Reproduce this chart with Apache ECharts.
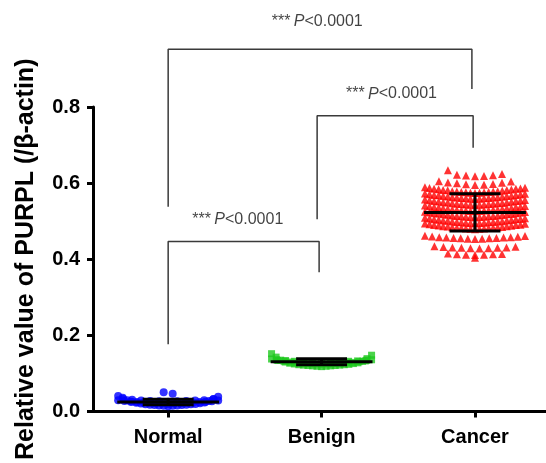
<!DOCTYPE html>
<html>
<head>
<meta charset="utf-8">
<style>
  html, body { margin: 0; padding: 0; background: #fff; }
  #main { width: 546px; height: 463px; }
</style>
<script src="https://cdn.jsdelivr.net/npm/echarts@6/dist/echarts.min.js"></script>
</head>
<body>
<div id="main"></div>
<script>
const categories = ["Normal", "Benign", "Cancer"];

// points, one array per horizontal row of the swarm
const normalRows = [
  [0.014, 0.015, 0.015, 0.016, 0.016, 0.017, 0.017, 0.018, 0.018, 0.019, 0.019, 0.020,
   0.021, 0.022, 0.023, 0.024, 0.026, 0.028, 0.030, 0.033, 0.036, 0.039, 0.041],
  [0.020, 0.021, 0.021, 0.022, 0.022, 0.023, 0.023, 0.024, 0.024, 0.025, 0.025, 0.026,
   0.026, 0.027, 0.028, 0.029, 0.030],
  [0.026, 0.027, 0.027, 0.028, 0.028, 0.029, 0.029, 0.030, 0.031, 0.032, 0.033],
  [0.047, 0.051],
];
const benignRows = [
  [0.118, 0.119, 0.119, 0.120, 0.120, 0.121, 0.121, 0.122, 0.122, 0.123, 0.123, 0.124,
   0.125, 0.126, 0.127, 0.128, 0.130, 0.132, 0.135, 0.139, 0.143, 0.148, 0.152],
  [0.124, 0.125, 0.125, 0.126, 0.126, 0.127, 0.127, 0.128, 0.128, 0.129, 0.130, 0.131,
   0.132, 0.133, 0.134, 0.136, 0.138],
  [0.129, 0.130, 0.130, 0.131, 0.131, 0.132, 0.132, 0.133, 0.134, 0.135, 0.136],
];
const cancerRows = [
  [0.618, 0.619, 0.620, 0.621, 0.622, 0.624, 0.634],
  [0.595, 0.596, 0.597, 0.598, 0.600, 0.601, 0.602, 0.604, 0.605],
  [0.574, 0.575, 0.575, 0.576, 0.576, 0.577, 0.577, 0.578, 0.578, 0.579, 0.579, 0.580,
   0.581, 0.582, 0.582, 0.583, 0.584, 0.585, 0.585, 0.586, 0.587, 0.588, 0.589],
  [0.558, 0.559, 0.559, 0.560, 0.560, 0.561, 0.561, 0.562, 0.562, 0.563, 0.563, 0.564,
   0.565, 0.566, 0.566, 0.567, 0.568, 0.569, 0.569, 0.570, 0.571, 0.572, 0.573],
  [0.542, 0.543, 0.543, 0.544, 0.544, 0.545, 0.545, 0.546, 0.546, 0.547, 0.547, 0.548,
   0.549, 0.550, 0.550, 0.551, 0.552, 0.553, 0.553, 0.554, 0.555, 0.556, 0.557],
  [0.526, 0.527, 0.527, 0.528, 0.528, 0.529, 0.529, 0.530, 0.530, 0.531, 0.531, 0.532,
   0.533, 0.534, 0.534, 0.535, 0.536, 0.537, 0.537, 0.538, 0.539, 0.540, 0.541],
  [0.510, 0.511, 0.511, 0.512, 0.512, 0.513, 0.513, 0.514, 0.514, 0.515, 0.515, 0.516,
   0.517, 0.518, 0.518, 0.519, 0.520, 0.521, 0.521, 0.522, 0.523, 0.524, 0.525],
  [0.494, 0.495, 0.495, 0.496, 0.496, 0.497, 0.497, 0.498, 0.498, 0.499, 0.499, 0.500,
   0.501, 0.502, 0.502, 0.503, 0.504, 0.505, 0.505, 0.506, 0.507, 0.508, 0.509],
  [0.479, 0.480, 0.480, 0.481, 0.481, 0.482, 0.482, 0.483, 0.483, 0.484, 0.484, 0.485,
   0.486, 0.487, 0.487, 0.488, 0.489, 0.490, 0.490, 0.491, 0.492, 0.493, 0.494],
  [0.453, 0.454, 0.454, 0.455, 0.455, 0.456, 0.456, 0.457, 0.457, 0.458, 0.458, 0.459,
   0.460, 0.461, 0.462],
  [0.428, 0.429, 0.429, 0.430, 0.430, 0.431, 0.431, 0.432, 0.433, 0.434],
  [0.411, 0.412, 0.412, 0.413, 0.413, 0.414, 0.415],
  [0.404],
];

const groupMean = [0.025, 0.131, 0.523];
const groupSD = [0.007, 0.008, 0.049];

// significance brackets: top, leg ends, label position (data units)
const bracketLeftX = [0, 0.971, 0];
const bracketRightX = [1.98, 1.988, 0.984];
const bracketTop = [0.952, 0.777, 0.447];
const bracketLeftEnd = [0.538, 0.505, 0.177];
const bracketRightEnd = [0.847, 0.693, 0.366];
const bracketLabelX = [0.972, 1.456, 0.454];
const bracketLabelY = [1.024, 0.834, 0.505];
const pText = "P";
const pValue = "<0.0001";

const FONT = 'Arial, "Liberation Sans", Helvetica, sans-serif';
const xMin = -0.49, xMax = 2.463;
const maxStep = 0.0587, rowWidth = 0.652;
const meanHalf = 0.332, capHalf = 0.166;

// lay each row out centre-out, lowest values in the middle
function swarm(rows, cx) {
  const pts = [];
  rows.forEach((row) => {
    const vals = row.slice().sort((a, b) => a - b);
    const n = vals.length;
    const step = Math.min(maxStep, rowWidth / Math.max(n - 1, 1));
    vals.forEach((v, k) => {
      let slot;
      if (n % 2) slot = k === 0 ? 0 : Math.ceil(k / 2) * (k % 2 ? 1 : -1);
      else slot = (Math.floor(k / 2) + 0.5) * (k % 2 ? -1 : 1);
      pts.push([cx + slot * step, v]);
    });
  });
  return pts;
}

const bracketSeries = bracketTop.map((top, i) => ({
  type: "line",
  clip: false,
  symbol: "none",
  silent: true,
  lineStyle: { color: "#3a3a3a", width: 1.5 },
  data: [
    [bracketLeftX[i], bracketLeftEnd[i]],
    [bracketLeftX[i], top],
    [bracketRightX[i], top],
    [bracketRightX[i], bracketRightEnd[i]],
  ],
  z: 1,
}));

const mChart = echarts.init(document.getElementById("main"));
const options = {
  animation: false,
  backgroundColor: "#fff",
  grid: { left: 93, right: 0, top: 107, bottom: 50 },
  xAxis: {
    type: "value",
    min: xMin,
    max: xMax,
    splitLine: { show: false },
    axisLine: { show: true, onZero: false, lineStyle: { color: "#000", width: 3 } },
    axisTick: { show: true, customValues: [0, 1, 2], length: 6, lineStyle: { color: "#000", width: 3 } },
    axisLabel: {
      customValues: [0, 1, 2],
      formatter: (v) => categories[Math.round(v)],
      color: "#000",
      fontFamily: FONT,
      fontWeight: "bold",
      fontSize: 20,
      margin: 16,
    },
  },
  yAxis: {
    type: "value",
    min: 0,
    max: 0.8,
    interval: 0.2,
    splitLine: { show: false },
    axisLine: { show: true, onZero: false, lineStyle: { color: "#000", width: 3 } },
    axisTick: { show: true, length: 6, lineStyle: { color: "#000", width: 3 } },
    axisLabel: {
      formatter: (v) => v.toFixed(1),
      color: "#000",
      fontFamily: FONT,
      fontWeight: "bold",
      fontSize: 20,
      margin: 13,
    },
    name: "Relative value of PURPL (/β-actin)",
    nameLocation: "middle",
    nameGap: 54,
    nameTextStyle: { color: "#000", fontFamily: FONT, fontWeight: "bold", fontSize: 25 },
  },
  series: [
    ...bracketSeries,
    {
      type: "scatter",
      symbol: "circle",
      symbolSize: 8,
      itemStyle: { color: "#0000ff" },
      data: swarm(normalRows, 0),
      z: 2,
    },
    {
      type: "scatter",
      symbol: "rect",
      symbolSize: 7,
      itemStyle: { color: "#1ec81e" },
      data: swarm(benignRows, 1),
      z: 2,
    },
    {
      type: "scatter",
      symbol: "triangle",
      symbolSize: 8,
      itemStyle: { color: "#ff0000" },
      data: swarm(cancerRows, 2),
      z: 2,
    },
    {
      type: "custom",
      z: 3,
      data: groupMean.map((m, i) => [i, m, groupSD[i]]),
      renderItem: (params, api) => {
        const i = api.value(0), m = api.value(1), sd = api.value(2);
        const l = api.coord([i - meanHalf, m]), r = api.coord([i + meanHalf, m]);
        const t = api.coord([i, m + sd]), b = api.coord([i, m - sd]);
        const cl = api.coord([i - capHalf, m])[0], cr = api.coord([i + capHalf, m])[0];
        const st = { stroke: "#000", lineWidth: 3 };
        return {
          type: "group",
          children: [
            { type: "line", shape: { x1: l[0], y1: l[1], x2: r[0], y2: r[1] }, style: st },
            { type: "line", shape: { x1: t[0], y1: t[1], x2: b[0], y2: b[1] }, style: st },
            { type: "line", shape: { x1: cl, y1: t[1], x2: cr, y2: t[1] }, style: st },
            { type: "line", shape: { x1: cl, y1: b[1], x2: cr, y2: b[1] }, style: st },
          ],
        };
      },
    },
    {
      type: "scatter",
      clip: false,
      silent: true,
      symbolSize: 1,
      itemStyle: { color: "rgba(0,0,0,0)" },
      data: bracketLabelX.map((x, i) => [x, bracketLabelY[i]]),
      label: {
        show: true,
        position: "inside",
        formatter: "{s|***} {i|" + pText + "}{s|" + pValue + "}",
        rich: {
          s: { fontFamily: FONT, fontSize: 16, color: "#111" },
          i: { fontFamily: FONT, fontSize: 16, fontStyle: "italic", color: "#111" },
        },
      },
      z: 4,
    },
  ],
};
mChart.setOption(options);
</script>
</body>
</html>
